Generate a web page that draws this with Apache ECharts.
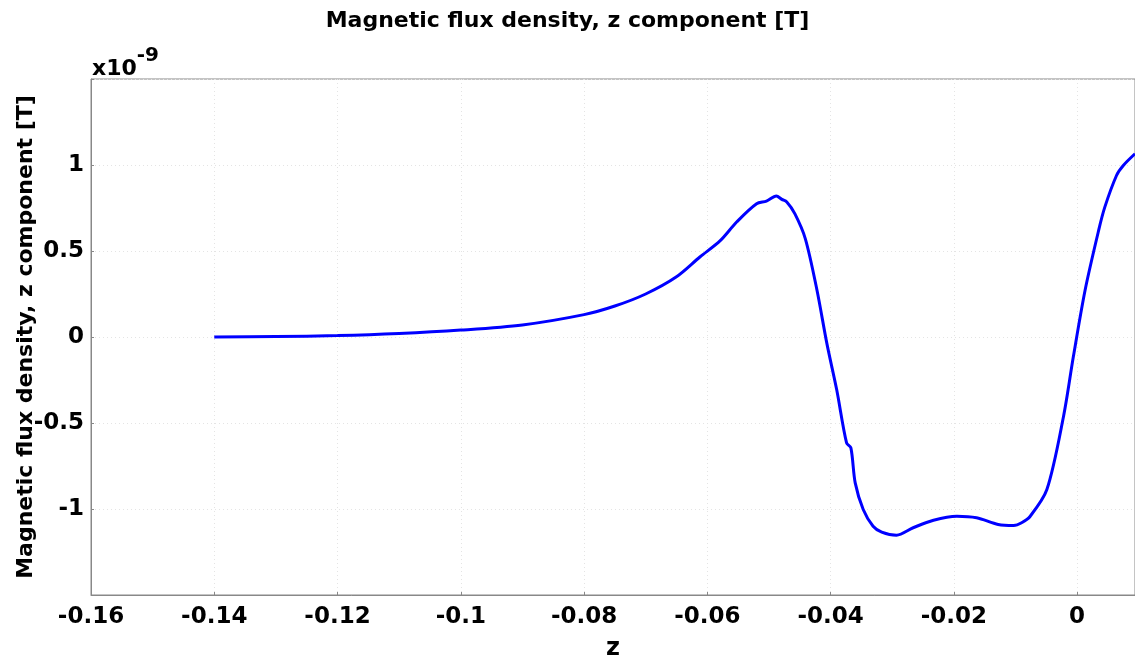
<!DOCTYPE html>
<html>
<head>
<meta charset="utf-8">
<script src="https://cdn.jsdelivr.net/npm/echarts@6/dist/echarts.min.js"></script>
<style>
    html, body { margin: 0; padding: 0; background: #fff; }
    #main { width: 1135px; height: 662px; }
</style>
</head>
<body>
<div id="main"></div>
<script>
// 数据 (y 单位 1e-9 T)
var zValues = [-0.14, -0.13, -0.12, -0.11, -0.1, -0.09, -0.08, -0.075, -0.07, -0.065, -0.0612,
    -0.0579, -0.0552, -0.052, -0.0504, -0.0488, -0.0479, -0.0471, -0.0458, -0.0441, -0.0422,
    -0.0406, -0.039, -0.0374, -0.0367, -0.036, -0.0347, -0.0331, -0.0317, -0.0293, -0.0266,
    -0.0233, -0.0195, -0.0163, -0.0128, -0.0103, -0.009, -0.0076, -0.0049, -0.0022, -0.0006,
    0.0013, 0.0035, 0.0045, 0.0064, 0.0075, 0.0094];
var bzValues = [0, 0.003, 0.008, 0.02, 0.04, 0.07, 0.13, 0.18, 0.25, 0.35, 0.465,
    0.56, 0.67, 0.775, 0.79, 0.82, 0.8, 0.785, 0.717, 0.572, 0.272,
    -0.037, -0.307, -0.616, -0.645, -0.848, -1.003, -1.1, -1.134, -1.152, -1.109,
    -1.065, -1.042, -1.051, -1.09, -1.096, -1.08, -1.042, -0.887, -0.462, -0.114,
    0.272, 0.62, 0.755, 0.939, 0.997, 1.065];
var xTicks = [-0.16, -0.14, -0.12, -0.1, -0.08, -0.06, -0.04, -0.02, 0];
var yTicks = [-1, -0.5, 0, 0.5, 1];

(function() {
    var myChart = echarts.init(document.getElementById('main'));
    var points = zValues.map(function(z, i) { return [z, bzValues[i]]; });
    var font = 'DejaVu Sans';

    var option = {
        backgroundColor: '#fff',
        animation: false,
        title: {
            text: 'Magnetic flux density, z component [T]',
            left: 'center',
            top: 5,
            textStyle: { fontFamily: font, fontWeight: 'bold', fontSize: 22, color: '#000' }
        },
        // 指数标注
        graphic: [{
            type: 'text',
            left: 92,
            top: 46,
            style: {
                text: '{a|x10}{b|-9}',
                rich: {
                    a: { fontFamily: font, fontWeight: 'bold', fontSize: 22, fill: '#000', padding: [12, 0, 0, 0] },
                    b: { fontFamily: font, fontWeight: 'bold', fontSize: 20, fill: '#000', verticalAlign: 'top' }
                }
            }
        }],
        grid: {
            left: 91,
            right: 0,
            top: 79,
            bottom: 67,
            outerBoundsMode: 'none',
            containLabel: false,
            show: true,
            borderColor: '#888',
            borderWidth: 1
        },
        xAxis: {
            type: 'value',
            min: -0.16,
            max: 0.0094,
            interval: 0.02,
            name: 'z',
            nameLocation: 'middle',
            nameGap: 42,
            nameMoveOverlap: false,
            nameTextStyle: { fontFamily: font, fontWeight: 'bold', fontSize: 24, color: '#000' },
            axisLine: { onZero: false, lineStyle: { color: '#888' } },
            axisTick: { inside: true, length: 3, lineStyle: { color: '#888' } },
            axisLabel: {
                fontFamily: font, fontWeight: 'bold', fontSize: 23, color: '#000', margin: 11,
                showMaxLabel: false,
                formatter: function(v) {
                    var hit = xTicks.some(function(t) { return Math.abs(t - v) < 1e-9; });
                    return hit ? String(Math.round(v * 100) / 100) : '';
                }
            },
            splitLine: { show: true, lineStyle: { color: '#e4e4e4', type: [1, 3] } }
        },
        yAxis: {
            type: 'value',
            min: -1.5,
            max: 1.5,
            interval: 0.5,
            name: 'Magnetic flux density, z component [T]',
            nameLocation: 'middle',
            nameGap: 54,
            nameMoveOverlap: false,
            nameTextStyle: { fontFamily: font, fontWeight: 'bold', fontSize: 22, color: '#000' },
            axisLine: { show: true, onZero: false, lineStyle: { color: '#888' } },
            axisTick: { show: true, inside: true, length: 3, lineStyle: { color: '#888' } },
            axisLabel: {
                fontFamily: font, fontWeight: 'bold', fontSize: 23, color: '#000', margin: 7,
                formatter: function(v) {
                    var hit = yTicks.some(function(t) { return Math.abs(t - v) < 1e-9; });
                    return hit ? String(v) : '';
                }
            },
            splitLine: { show: true, lineStyle: { color: '#e4e4e4', type: [1, 3] } }
        },
        series: [{
            type: 'line',
            data: points,
            showSymbol: false,
            smooth: 0.3,
            lineStyle: { color: '#0000ff', width: 3 },
            clip: true
        }]
    };
    myChart.setOption(option);
    window.addEventListener('resize', function() {
        myChart.resize();
    });
})();
</script>
</body>
</html>
